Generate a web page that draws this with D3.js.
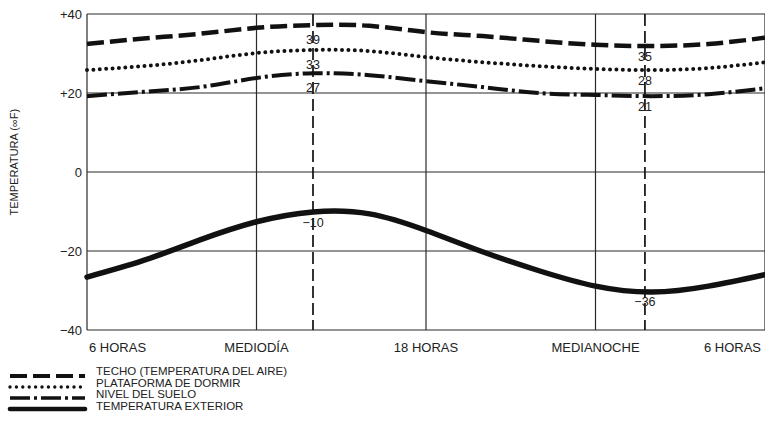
<!DOCTYPE html>
<html>
<head>
<meta charset="utf-8">
<script src="https://cdn.jsdelivr.net/npm/d3@7"></script>
<style>
  body { margin: 0; background: #fff; }
  svg { display: block; font-family: "Liberation Sans", Arial, sans-serif; }
</style>
</head>
<body>
<div id="chart"></div>
<script>
// hours from 6h to 6h next day
const hours = [6, 8, 10, 12, 14, 16, 18, 20, 22, 24, 26, 28, 30];
const techo      = [32.4, 33.8, 35.0, 36.5, 37.2, 37.0, 35.4, 34.4, 33.2, 32.2, 31.9, 32.4, 34.0];
const plataforma = [25.8, 26.8, 28.3, 30.1, 30.9, 30.6, 29.1, 27.8, 26.8, 26.1, 25.8, 26.3, 27.8];
const nivel      = [19.2, 20.3, 21.5, 23.8, 25.0, 24.5, 23.0, 21.5, 20.0, 19.5, 19.2, 19.7, 21.2];
const exterior   = [-26.6, -22.4, -17.2, -12.6, -10.1, -10.6, -14.8, -20.2, -25.0, -28.9, -30.4, -28.9, -26.0];

const tickHours = [6, 12, 18, 24, 30];
const tickLabels = ["6 HORAS", "MEDIODÍA", "18 HORAS", "MEDIANOCHE", "6 HORAS"];
const yTicks = [40, 20, 0, -20, -40];
const yTickLabels = ["+40", "+20", "0", "\u221220", "\u221240"];

// marked hours (max and min) and the values written next to them
const markHours = [14, 25.75];
const markLabelsMax = ["39", "33", "27", "\u221210"];
const markLabelsMin = ["35", "28", "21", "\u221236"];

const seriesNames = ["TECHO (TEMPERATURA DEL AIRE)", "PLATAFORMA DE DORMIR", "NIVEL DEL SUELO", "TEMPERATURA EXTERIOR"];

const width = 765, height = 422;
const margin = { top: 14, right: 0, bottom: 92, left: 87 };

const svg = d3.select("#chart").append("svg")
    .attr("width", width)
    .attr("height", height);

const x = d3.scaleLinear().domain([6, 30]).range([margin.left, width - margin.right]);
const y = d3.scaleLinear().domain([-40, 40]).range([height - margin.bottom, margin.top]);

const gridColor = "#2a2a2a";

// horizontal grid
svg.append("g").selectAll("line")
    .data(yTicks)
    .join("line")
    .attr("x1", x(6)).attr("x2", x(30))
    .attr("y1", d => y(d)).attr("y2", d => y(d))
    .attr("stroke", gridColor)
    .attr("stroke-width", 1.2);

// vertical grid
svg.append("g").selectAll("line")
    .data(tickHours)
    .join("line")
    .attr("x1", d => x(d)).attr("x2", d => x(d))
    .attr("y1", y(40)).attr("y2", y(-40))
    .attr("stroke", gridColor)
    .attr("stroke-width", 1.2);

// dashed marker lines
svg.append("g").selectAll("line")
    .data(markHours)
    .join("line")
    .attr("x1", d => x(d)).attr("x2", d => x(d))
    .attr("y1", y(40)).attr("y2", y(-40))
    .attr("stroke", "#111")
    .attr("stroke-width", 1.7)
    .attr("stroke-dasharray", "12,5");

// y tick labels
svg.append("g").selectAll("text")
    .data(yTicks)
    .join("text")
    .attr("x", margin.left - 5)
    .attr("y", d => y(d))
    .attr("dy", "0.35em")
    .attr("text-anchor", "end")
    .attr("font-size", 13)
    .attr("fill", "#222")
    .text((d, i) => yTickLabels[i]);

// x tick labels
svg.append("g").selectAll("text")
    .data(tickHours)
    .join("text")
    .attr("x", d => x(d))
    .attr("y", y(-40) + 22)
    .attr("text-anchor", (d, i) => i === 0 ? "start" : (i === tickHours.length - 1 ? "end" : "middle"))
    .attr("dx", (d, i) => i === 0 ? 2 : (i === tickHours.length - 1 ? -4 : 0))
    .attr("font-size", 13)
    .attr("fill", "#222")
    .text((d, i) => tickLabels[i]);

// y axis title
svg.append("text")
    .attr("transform", `translate(18,${y(2.5)}) rotate(-90)`)
    .attr("text-anchor", "middle")
    .attr("font-size", 11)
    .attr("fill", "#222")
    .text("TEMPERATURA (\u221EF)");

const line = d3.line()
    .x((d, i) => x(hours[i]))
    .y(d => y(d))
    .curve(d3.curveNatural);

const styles = [
    { data: techo, width: 4.5, dash: "17,6", cap: "butt" },
    { data: plataforma, width: 4, dash: "0,6.4", cap: "round" },
    { data: nivel, width: 4, dash: "20,4,3,4", cap: "butt" },
    { data: exterior, width: 5.5, dash: null, cap: "round" }
];

svg.append("g").selectAll("path")
    .data(styles)
    .join("path")
    .attr("d", d => line(d.data))
    .attr("fill", "none")
    .attr("stroke", "#111")
    .attr("stroke-width", d => d.width)
    .attr("stroke-dasharray", d => d.dash)
    .attr("stroke-linecap", d => d.cap);

// value labels at the marked hours
const maxSeries = [techo, plataforma, nivel];
function valueAt(arr, h) {
    const i = d3.bisectLeft(hours, h);
    if (hours[i] === h) return arr[i];
    const t = (h - hours[i - 1]) / (hours[i] - hours[i - 1]);
    return arr[i - 1] + t * (arr[i] - arr[i - 1]);
}
[markLabelsMax, markLabelsMin].forEach((labels, k) => {
    const h = markHours[k];
    svg.append("g").selectAll("text")
        .data(labels)
        .join("text")
        .attr("x", x(h))
        .attr("y", (d, i) => i < 3 ? y(valueAt(maxSeries[i], h)) + (k === 0 ? 19 : 15) : y(valueAt(exterior, h)) + 15)
        .attr("text-anchor", "middle")
        .attr("font-size", 12.5)
        .attr("fill", "#222")
        .text(d => d);
});

// legend
const legend = svg.append("g").attr("transform", "translate(10,371)");
const rows = legend.selectAll("g")
    .data(styles)
    .join("g")
    .attr("transform", (d, i) => `translate(0,${i * 11.6})`);
rows.append("line")
    .attr("x1", 0).attr("x2", 75)
    .attr("y1", (d, i) => 5 - i * 0.6).attr("y2", (d, i) => 5 - i * 0.6)
    .attr("stroke", "#111")
    .attr("stroke-width", d => d.width * 0.85)
    .attr("stroke-dasharray", d => d.dash)
    .attr("stroke-linecap", d => d.cap);
rows.append("text")
    .attr("x", 86)
    .attr("y", 0)
    .attr("dy", "0.35em")
    .attr("font-size", 11.5)
    .attr("fill", "#222")
    .text((d, i) => seriesNames[i]);
</script>
</body>
</html>
